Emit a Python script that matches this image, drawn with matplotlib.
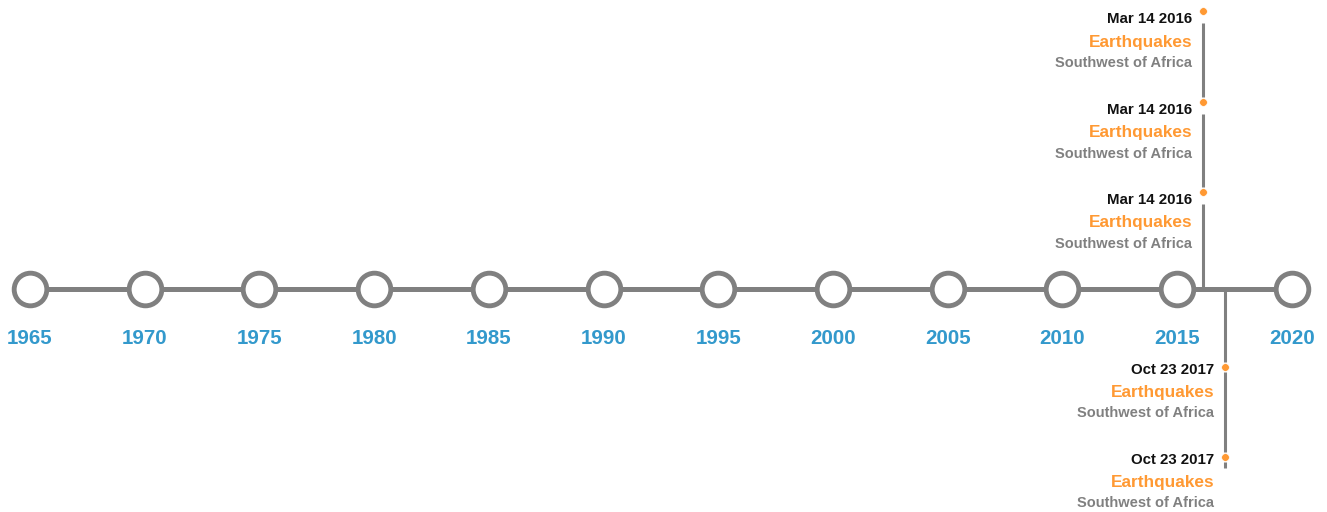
import matplotlib.pyplot as plt

plt.rcParams['font.family'] = ['Liberation Sans', 'DejaVu Sans']

# axis years
years = [1965, 1970, 1975, 1980, 1985, 1990, 1995, 2000, 2005, 2010, 2015, 2020]

# events (position on the time axis)
event_dates = ['Mar 14 2016', 'Mar 14 2016', 'Mar 14 2016', 'Oct 23 2017', 'Oct 23 2017']
event_titles = ['Earthquakes'] * 5
event_places = ['Southwest of Africa'] * 5
event_x = [2016.15, 2016.15, 2016.15, 2017.1, 2017.1]
event_side = ['up', 'up', 'up', 'down', 'down']

grey = '#808080'
orange = '#ff9933'
blue = '#3399cc'

px_per_year = 22.94
x0 = 30
W, H = 1327, 512
line_y = 289

fig = plt.figure(figsize=(W / 100, H / 100), dpi=100)
ax = fig.add_axes([0, 0, 1, 1])
ax.set_xlim(years[0] - x0 / px_per_year, years[0] + (W - x0) / px_per_year)
ax.set_ylim(H, 0)
ax.axis('off')

def px(n):
    # pixel distance -> years along x
    return n / px_per_year

# stems + event labels
groups = {}
for i, s in enumerate(event_side):
    groups.setdefault((s, event_x[i]), []).append(i)

for (side, xe), idx in groups.items():
    if side == 'up':
        dots = [line_y - 97 - 90.5 * k for k in range(len(idx))]
        prev = line_y
        for d in dots:
            ax.plot([xe, xe], [prev, d + 12], color=grey, lw=2.2, solid_capstyle='butt', zorder=2)
            prev = d - 5
        offs = (8, 31, 52)
    else:
        dots = [line_y + 78 + 90 * k for k in range(len(idx))]
        prev = line_y
        for d in dots:
            ax.plot([xe, xe], [prev, d - 5], color=grey, lw=2.2, solid_capstyle='butt', zorder=2)
            prev = d + 5
        ax.plot([xe, xe], [prev, prev + 6], color=grey, lw=2.2, solid_capstyle='butt', zorder=2)
        offs = (3, 25, 46)
    for d, i in zip(dots, idx):
        ax.plot(xe, d, 'o', color=orange, ms=5.5, mec='white', mew=0.4, zorder=4)
        tx = xe - px(11)
        ax.text(tx, d + offs[0], event_dates[i], ha='right', va='center',
                fontsize=10.8, fontweight='bold', color='#111111')
        ax.text(tx, d + offs[1], event_titles[i], ha='right', va='center',
                fontsize=12.4, fontweight='bold', color=orange)
        ax.text(tx, d + offs[2], event_places[i], ha='right', va='center',
                fontsize=10.5, fontweight='bold', color=grey)

# main timeline
ax.plot([years[0], years[-1]], [line_y, line_y], color=grey, lw=3.6, zorder=3)
ax.plot(years, [line_y] * len(years), 'o', ms=23.5, mfc='white', mec=grey, mew=3.5, zorder=5)
for y in years:
    ax.text(y, 338, str(y), ha='center', va='center', fontsize=14.8,
            fontweight='bold', color=blue)

fig.savefig('out.png', dpi=100)
